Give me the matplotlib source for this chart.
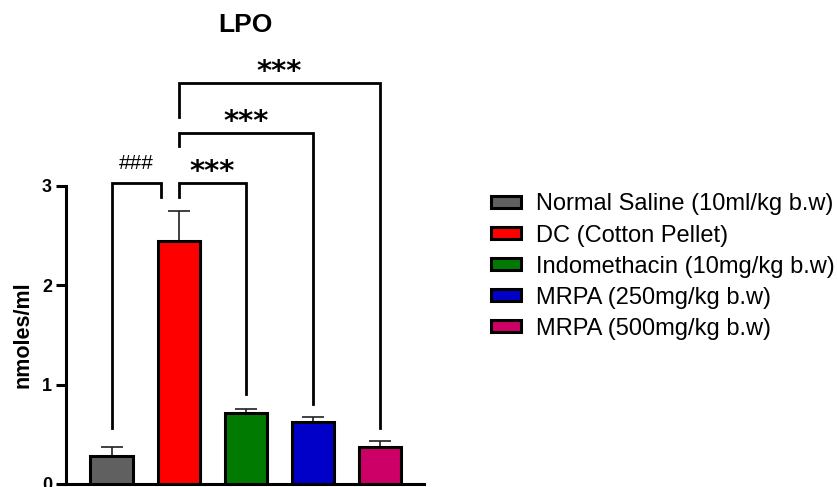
import matplotlib.pyplot as plt
from matplotlib.patches import Patch

groups = ['Normal Saline (10ml/kg b.w)', 'DC (Cotton Pellet)',
          'Indomethacin (10mg/kg b.w)', 'MRPA (250mg/kg b.w)',
          'MRPA (500mg/kg b.w)']
means = [0.28, 2.45, 0.71, 0.62, 0.37]
sems = [0.09, 0.30, 0.05, 0.05, 0.06]
colors = ['#606060', '#ff0000', '#007a00', '#0000c8', '#cc0066']

# comparisons: (left x, right x, bar height, left leg end, right leg end, label)
brackets = [
    (0.0, 2.2 / 3, 3.03, 0.56, 2.89, '###'),
    (1.0, 2.0, 3.03, 2.89, 0.91, '***'),
    (1.0, 3.0, 3.53, 3.40, 0.81, '***'),
    (1.0, 4.0, 4.04, 3.69, 0.56, '***'),
]

plt.rcParams['font.family'] = ['Liberation Sans', 'DejaVu Sans']

fig = plt.figure(figsize=(8.38, 4.87), dpi=100)
ax = fig.add_axes([66 / 838, 3 / 487, 358 / 838, 298 / 487])

x = list(range(len(means)))
ax.bar(x, means, width=0.63, color=colors, edgecolor='black', linewidth=2.2, zorder=3)
ax.errorbar(x, means, yerr=[[0] * len(sems), sems], fmt='none', ecolor='#202020',
            elinewidth=1.2, capsize=8, capthick=1.2, zorder=2)

for x1, x2, h, l1, l2, lab in brackets:
    ax.plot([x1, x1, x2, x2], [l1, h, h, l2], color='black', lw=2, clip_on=False,
            solid_joinstyle='miter')
    if lab == '###':
        ax.text((x1 + x2) / 2, h + 0.2, lab, ha='center', va='center',
                fontsize=15, clip_on=False)
    else:
        ax.text((x1 + x2) / 2, h + 0.11, lab, ha='center', va='center',
                fontsize=21, fontweight='bold', family='DejaVu Sans', clip_on=False)

ax.set_xlim(-0.68, 4.66)
ax.set_ylim(0, 3)
ax.set_yticks([0, 1, 2, 3])
ax.set_xticks([])
for s in ['top', 'right']:
    ax.spines[s].set_visible(False)
for s in ['left', 'bottom']:
    ax.spines[s].set_linewidth(2.2)
ax.tick_params(axis='y', length=7, width=2.2, labelsize=13, pad=3)
for t in ax.get_yticklabels():
    t.set_fontweight('bold')
ax.set_ylabel('nmoles/ml', fontsize=15.5, fontweight='bold', labelpad=6)

fig.text(245 / 838, 1 - 25 / 487, 'LPO', ha='center', va='center',
         fontsize=19, fontweight='bold')

handles = [Patch(facecolor=c, edgecolor='black', linewidth=2.2) for c in colors]
fig.legend(handles, groups, loc='upper left', bbox_to_anchor=(482 / 838, 1 - 184 / 487),
           frameon=False, fontsize=17, handlelength=1.25, handleheight=0.42,
           handletextpad=0.62, labelspacing=0.385, borderaxespad=0)

fig.savefig('out.png', dpi=100)
